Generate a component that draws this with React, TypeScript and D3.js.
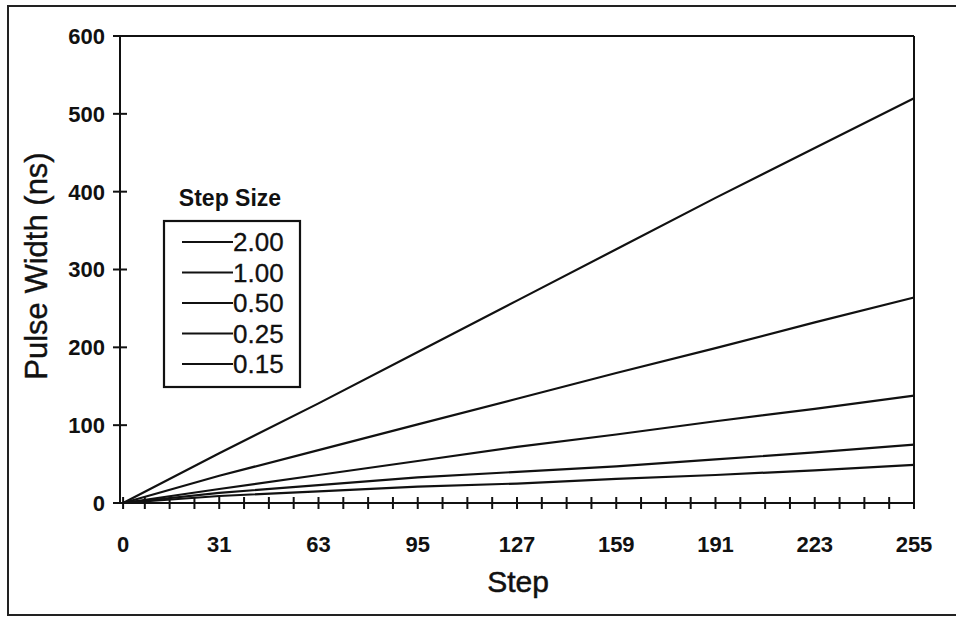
import React from "react";
import * as d3 from "d3";

const steps = [0, 31, 63, 95, 127, 159, 191, 223, 255];
const seriesNames = ["2.00", "1.00", "0.50", "0.25", "0.15"];
const s200 = [0, 64, 128, 194, 260, 326, 392, 456, 520];
const s100 = [0, 35, 68, 101, 134, 167, 199, 232, 264];
const s050 = [0, 18, 36, 54, 72, 88, 105, 121, 138];
const s025 = [0, 13, 23, 33, 40, 47, 56, 65, 75];
const s015 = [0, 9, 15, 21, 25, 31, 36, 42, 49];
const seriesValues = [s200, s100, s050, s025, s015];
const xTickLabels = [0, 31, 63, 95, 127, 159, 191, 223, 255];
const yTicks = [0, 100, 200, 300, 400, 500, 600];

const W = 956, H = 618;
const L = 120, R = 914, T = 36, B = 503;

export default function App() {
  const x = d3.scaleLinear().domain([-1, 255]).range([L, R]);
  const y = d3.scaleLinear().domain([0, 600]).range([B, T]);
  const line = d3.line<number>().x((_, i) => x(steps[i])).y((v) => y(v));
  const minorTicks = d3.range(0, 33).map((k) => (k === 0 ? 0 : k * 8 - 1));
  const font = "'Liberation Sans', Arial, sans-serif";
  const ink = "#111";
  const legendX = 164, legendY = 221;
  return (
    <svg width={W} height={H} style={{ position: "fixed", left: 0, top: 0, background: "#fff" }} fontFamily={font}>
      <rect x={0} y={0} width={W} height={H} fill="#fff" />
      <rect x={8} y={6} width={980} height={609} fill="none" stroke="#222" strokeWidth={2} />
      {/* plot frame */}
      <line x1={L} y1={T} x2={R} y2={T} stroke={ink} strokeWidth={2} />
      <line x1={R} y1={T} x2={R} y2={B + 5} stroke={ink} strokeWidth={2} />
      <line x1={L} y1={T} x2={L} y2={B} stroke={ink} strokeWidth={2} />
      <line x1={L} y1={B} x2={R} y2={B} stroke={ink} strokeWidth={2} />
      {yTicks.map((t) => (
        <g key={t}>
          <line x1={L - 7} x2={L + 7} y1={y(t)} y2={y(t)} stroke={ink} strokeWidth={2} />
          <text x={105} y={y(t)} dy="0.36em" textAnchor="end" fontSize={22} fontWeight="bold" fill={ink}>{t}</text>
        </g>
      ))}
      {minorTicks.map((t) => (
        <line key={t} x1={x(t)} x2={x(t)} y1={B - 6} y2={B + 6} stroke={ink} strokeWidth={2} />
      ))}
      {xTickLabels.map((t) => (
        <text key={t} x={x(t)} y={552} textAnchor="middle" fontSize={22} fontWeight="bold" fill={ink}>{t}</text>
      ))}
      <text x={518} y={592} textAnchor="middle" fontSize={30} fill={ink} stroke={ink} strokeWidth={0.5}>Step</text>
      <text transform={`translate(47,266) rotate(-90)`} textAnchor="middle" fontSize={31} fill={ink} stroke={ink} strokeWidth={0.4}>Pulse Width (ns)</text>
      {seriesValues.map((vals, i) => (
        <path key={seriesNames[i]} d={line(vals) || ""} fill="none" stroke={ink} strokeWidth={2.2} />
      ))}
      {/* legend */}
      <text x={230} y={206} textAnchor="middle" fontSize={23} fontWeight="bold" fill={ink}>Step Size</text>
      <rect x={legendX} y={legendY} width={136} height={166} fill="#fff" stroke={ink} strokeWidth={2.2} />
      {seriesNames.map((n, i) => {
        const ly = 242 + i * 30.5;
        return (
          <g key={n}>
            <line x1={182} x2={233} y1={ly} y2={ly} stroke={ink} strokeWidth={2.2} />
            <text x={233} y={ly} dy="0.36em" fontSize={26} fill={ink} stroke={ink} strokeWidth={0.3}>{n}</text>
          </g>
        );
      })}
    </svg>
  );
}
